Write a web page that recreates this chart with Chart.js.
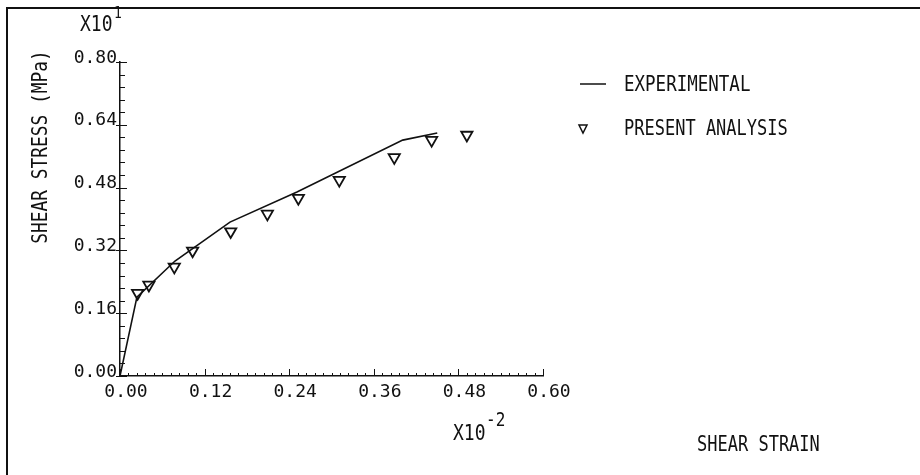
<!DOCTYPE html>
<html>
<head>
<meta charset="utf-8">
<script src="https://cdn.jsdelivr.net/npm/chart.js@4"></script>
<style>
  html, body { margin: 0; padding: 0; background: #fff; }
  #wrap { width: 920px; height: 475px; position: relative; }
</style>
</head>
<body>
<div id="wrap"><canvas id="chart"></canvas></div>
<script>
// shear strain (x10^-2) and shear stress (x10^1 MPa)
const expStrain = [0.0, 0.024, 0.078, 0.156, 0.251, 0.401, 0.450];
const expStress = [0.0, 0.201, 0.293, 0.392, 0.469, 0.601, 0.619];

const anaStrain = [0.025, 0.041, 0.077, 0.103, 0.157, 0.209, 0.253, 0.311, 0.389, 0.442, 0.492];
const anaStress = [0.211, 0.232, 0.278, 0.319, 0.368, 0.413, 0.453, 0.499, 0.557, 0.601, 0.614];

const xTicks = [0.00, 0.12, 0.24, 0.36, 0.48, 0.60];
const yTicks = [0.00, 0.16, 0.32, 0.48, 0.64, 0.80];

const FONT = "'DejaVu Sans Mono', 'Liberation Mono', monospace";
const INK = '#111';

const toPoints = (xs, ys) => xs.map((x, i) => ({ x: x, y: ys[i] }));

// tall, narrow plotter-style text
function plotText(ctx, txt, x, y, size) {
    ctx.save();
    ctx.translate(x, y);
    ctx.scale(1, 1.2);
    ctx.font = size + 'px ' + FONT;
    ctx.fillText(txt, 0, 0);
    ctx.restore();
}

// frame, inward ticks, multiplier labels, legend, axis titles
const plotterDecor = {
    id: 'plotterDecor',
    afterDraw(chart) {
        const ctx = chart.ctx;
        const xs = chart.scales.x, ys = chart.scales.y;
        const x0 = xs.getPixelForValue(0), y0 = ys.getPixelForValue(0);
        ctx.save();
        ctx.strokeStyle = INK;
        ctx.fillStyle = INK;

        // page frame
        ctx.lineWidth = 2;
        ctx.beginPath();
        ctx.moveTo(7, 475);
        ctx.lineTo(7, 8);
        ctx.lineTo(920, 8);
        ctx.stroke();

        // x ticks (minor every 0.012, major every 0.12)
        ctx.lineWidth = 1;
        for (let i = 0; i <= 50; i++) {
            const px = Math.round(xs.getPixelForValue(i * 0.012)) + 0.5;
            const len = i % 10 === 0 ? 7 : 3;
            ctx.beginPath();
            ctx.moveTo(px, y0);
            ctx.lineTo(px, y0 - len);
            ctx.stroke();
        }
        // y ticks (minor every 0.032, major every 0.16)
        for (let i = 0; i <= 25; i++) {
            const py = Math.round(ys.getPixelForValue(i * 0.032)) + 0.5;
            const major = i % 5 === 0;
            ctx.beginPath();
            ctx.moveTo(x0 - (major ? 4 : 0), py);
            ctx.lineTo(x0 + (major ? 7 : 5), py);
            ctx.stroke();
        }

        // multiplier labels
        ctx.textBaseline = 'alphabetic';
        ctx.textAlign = 'left';
        plotText(ctx, 'X10', 80, 31, 18);
        plotText(ctx, '1', 114, 18, 13);
        plotText(ctx, 'X10', 453, 440, 18);
        plotText(ctx, '-2', 486, 426, 16);

        // axis titles
        plotText(ctx, 'SHEAR STRAIN', 697, 451, 17);
        ctx.save();
        ctx.translate(47, 147);
        ctx.rotate(-Math.PI / 2);
        ctx.scale(1.05, 1.2);
        ctx.textAlign = 'center';
        ctx.font = '17px ' + FONT;
        ctx.fillText('SHEAR STRESS (MPa)', 0, 0);
        ctx.restore();

        // legend
        ctx.lineWidth = 1.5;
        ctx.beginPath();
        ctx.moveTo(580, 84);
        ctx.lineTo(606, 84);
        ctx.stroke();
        plotText(ctx, 'EXPERIMENTAL', 624, 91, 17.5);
        plotText(ctx, 'PRESENT ANALYSIS', 624, 135, 17);
        ctx.lineWidth = 1.5;
        ctx.beginPath();
        ctx.moveTo(579, 125);
        ctx.lineTo(587, 125);
        ctx.lineTo(583, 133);
        ctx.closePath();
        ctx.stroke();

        ctx.restore();
    }
};

new Chart(document.getElementById('chart'), {
    type: 'scatter',
    data: {
        datasets: [
            {
                label: 'EXPERIMENTAL',
                data: toPoints(expStrain, expStress),
                showLine: true,
                borderColor: INK,
                borderWidth: 1.6,
                pointRadius: 0,
                tension: 0,
            },
            {
                label: 'PRESENT ANALYSIS',
                data: toPoints(anaStrain, anaStress),
                showLine: false,
                pointStyle: 'triangle',
                rotation: 180,
                pointRadius: 6.5,
                pointBorderColor: INK,
                pointBackgroundColor: 'rgba(0,0,0,0)',
                pointBorderWidth: 1.8,
            },
        ],
    },
    options: {
        responsive: true,
        maintainAspectRatio: false,
        animation: false,
        layout: { padding: { left: 60, top: 62, right: 377, bottom: 59 } },
        plugins: {
            legend: { display: false },
            tooltip: { enabled: false },
        },
        scales: {
            x: {
                type: 'linear',
                min: 0,
                max: 0.6,
                afterFit: s => { s.height = 40; },
                afterBuildTicks: s => { s.ticks = xTicks.map(v => ({ value: v })); },
                grid: { display: false, drawTicks: false },
                border: { display: true, color: INK, width: 1.5 },
                ticks: {
                    color: INK,
                    padding: 6,
                    font: { family: FONT, size: 18 },
                    callback: v => v.toFixed(2),
                    labelOffset: 6,
                },
            },
            y: {
                type: 'linear',
                min: 0,
                max: 0.8,
                afterFit: s => { s.width = 60; },
                afterBuildTicks: s => { s.ticks = yTicks.map(v => ({ value: v })); },
                grid: { display: false, drawTicks: false },
                border: { display: true, color: INK, width: 1.5 },
                ticks: {
                    color: INK,
                    padding: 3,
                    font: { family: FONT, size: 18 },
                    callback: v => v.toFixed(2),
                    labelOffset: -4,
                },
            },
        },
    },
    plugins: [plotterDecor],
});
</script>
</body>
</html>
